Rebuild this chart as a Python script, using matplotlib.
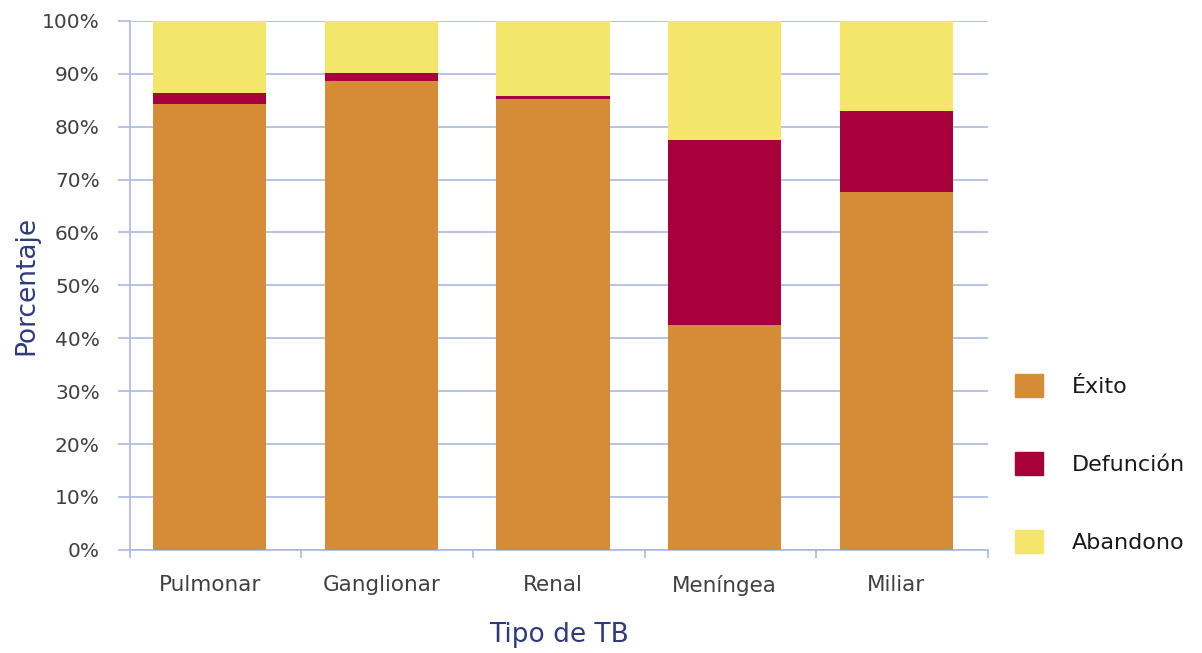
import matplotlib
matplotlib.use("Agg")
import matplotlib.pyplot as plt
from matplotlib.ticker import FuncFormatter, MultipleLocator
from matplotlib.patches import Patch
import numpy as np

# data (percent)
tipos = ["Pulmonar", "Ganglionar", "Renal", "Meníngea", "Miliar"]
exito = [84.3, 88.7, 85.3, 42.6, 67.6]
defuncion = [2.1, 1.5, 0.5, 34.9, 15.4]
abandono = [13.6, 9.8, 14.2, 22.5, 17.0]

c_exito = "#d68b36"
c_def = "#a8003b"
c_aband = "#f4e56b"
grid_c = "#a9b9de"
label_c = "#2e3a7c"
tick_c = "#404040"

plt.rcParams['font.family'] = ['DejaVu Sans']

fig = plt.figure(figsize=(12.02, 6.53), dpi=100)
ax = fig.add_axes([0.108, 0.158, 0.714, 0.81])

x = np.arange(len(tipos))
xb = x - 0.035  # bars sit a bit left of the slot centre
w = 0.66
ex = np.array(exito)
de = np.array(defuncion)
ab = np.array(abandono)
ax.bar(xb, ex, w, color=c_exito, zorder=3)
ax.bar(xb, de, w, bottom=ex, color=c_def, zorder=3)
ax.bar(xb, ab, w, bottom=ex + de, color=c_aband, zorder=3)

ax.set_xlim(-0.5, len(tipos) - 0.5)
ax.set_ylim(0, 100)
ax.yaxis.set_major_locator(MultipleLocator(10))
ax.yaxis.set_major_formatter(FuncFormatter(lambda v, p: f"{int(v)}%"))
ax.grid(axis='y', color=grid_c, linewidth=1.2, zorder=0)

ax.set_xticks(xb)
ax.set_xticklabels(tipos)
ax.tick_params(axis='x', length=0, pad=18, labelsize=15.5, labelcolor=tick_c)
ax.set_xticks(np.arange(len(tipos) + 1) - 0.5, minor=True)
ax.tick_params(axis='x', which='minor', length=6, color=grid_c, width=1.2)
ax.tick_params(axis='y', length=8.6, color=grid_c, width=1.2, labelsize=14.5, labelcolor=tick_c, pad=13)

for s in ['top', 'right']:
    ax.spines[s].set_visible(False)
for s in ['left', 'bottom']:
    ax.spines[s].set_color(grid_c)
    ax.spines[s].set_linewidth(1.2)

ax.set_ylabel("Porcentaje", fontsize=19, color=label_c, labelpad=2)
ax.set_xlabel("Tipo de TB", fontsize=19, color=label_c, labelpad=19)

handles = [Patch(color=c_exito, label="Éxito"),
           Patch(color=c_def, label="Defunción"),
           Patch(color=c_aband, label="Abandono")]
fig.legend(handles=handles, loc='center left', bbox_to_anchor=(0.828, 0.29),
           frameon=False, fontsize=16, handlelength=1.25, handleheight=1.25,
           labelspacing=2.45, handletextpad=1.3, labelcolor='#1a1a1a')

fig.savefig("out.png", dpi=100)
